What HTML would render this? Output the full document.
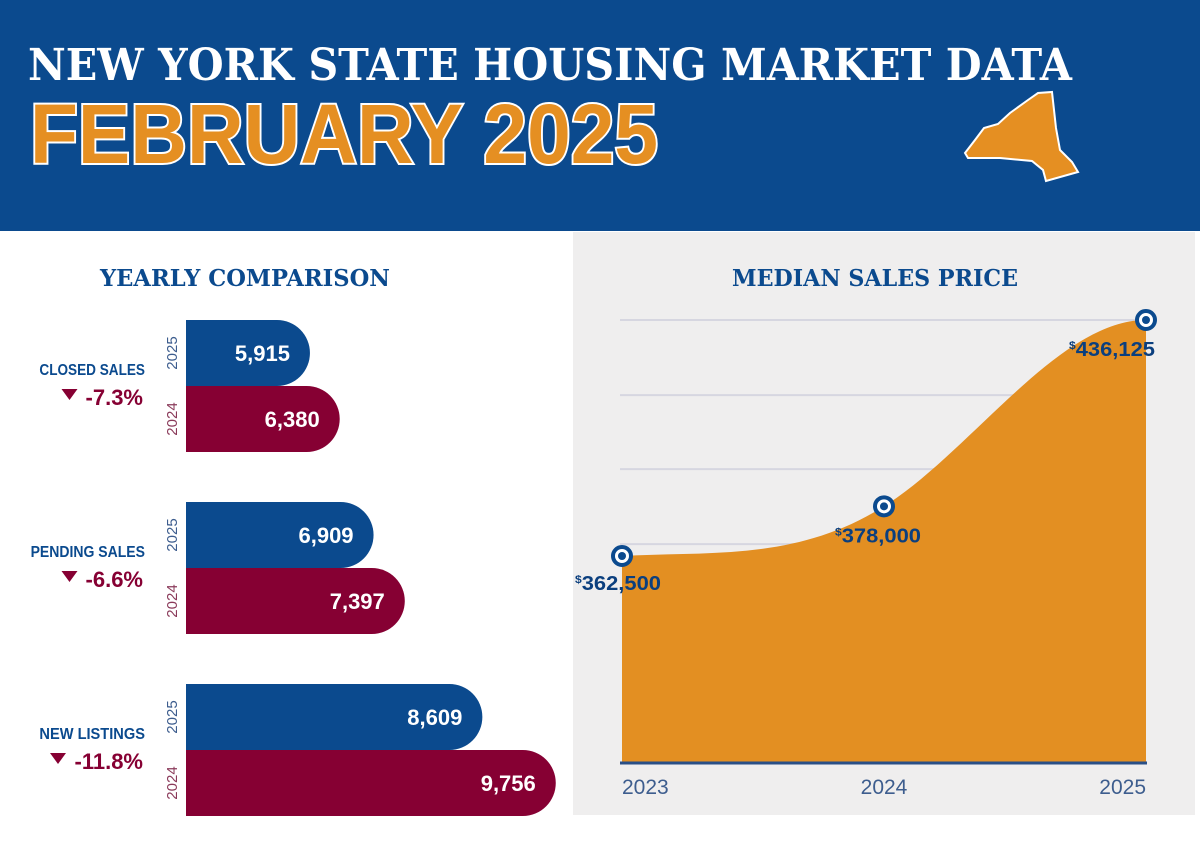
<!DOCTYPE html>
<html><head><meta charset="utf-8"><style>
html,body{margin:0;padding:0;background:#fff;width:1200px;height:842px;overflow:hidden}
svg{display:block}
.slab{font-family:"DejaVu Serif","Liberation Serif",serif;font-weight:bold}
.sans{font-family:"Liberation Sans",sans-serif}
</style></head><body>
<svg id="c" width="1200" height="842" viewBox="0 0 1200 842">
<rect x="0" y="0" width="1200" height="231" fill="#0b4a8e"/>
<text x="28" y="80" class="slab" font-size="44" fill="#fff" textLength="1044" lengthAdjust="spacingAndGlyphs">NEW YORK STATE HOUSING MARKET DATA</text>
<text x="30" y="163" class="sans" font-weight="bold" font-size="84" fill="#e58f22" stroke="#fff" stroke-width="4" paint-order="stroke" textLength="628" lengthAdjust="spacingAndGlyphs">FEBRUARY 2025</text>
<polygon fill="#e58f22" stroke="#fff" stroke-width="2" points="965,153 975,140 984,128 998,124 1010,113 1028,100 1038,93 1052,92 1056,128 1060,150 1072,162 1078,172 1046,181 1043,170 1032,161 1000,158 968,158"/>
<rect x="573" y="232" width="622" height="583" fill="#efeeee"/>
<text x="245" y="286" text-anchor="middle" class="slab" font-size="23" fill="#0b4a8e" textLength="290" lengthAdjust="spacingAndGlyphs">YEARLY COMPARISON</text>
<text x="875" y="286" text-anchor="middle" class="slab" font-size="23" fill="#0b4a8e" textLength="286" lengthAdjust="spacingAndGlyphs">MEDIAN SALES PRICE</text>
<g id="bars"></g>
<g id="area"></g>
</svg>
<script>
const categories=["CLOSED SALES","PENDING SALES","NEW LISTINGS"];
const changes=["-7.3%","-6.6%","-11.8%"];
const values2025=[5915,6909,8609];
const values2024=[6380,7397,9756];
const barLabels2025=["5,915","6,909","8,609"];
const barLabels2024=["6,380","7,397","9,756"];
const priceYears=["2023","2024","2025"];
const prices=[362500,378000,436125];
const priceLabels=["362,500","378,000","436,125"];
const gridValues=[436125,412700,389600,366200];

const NS="http://www.w3.org/2000/svg";
function mk(t,a,p){const e=document.createElementNS(NS,t);for(const k in a)e.setAttribute(k,a[k]);p.appendChild(e);return e;}
const bars=document.getElementById('bars');
const x0=186;
function bw(v){return 225+0.064*(v-7494);}
const groupTop=[320,502,684];
function barPath(y,w,h){const r=h/2;return `M${x0},${y}H${x0+w-r}A${r},${r} 0 0 1 ${x0+w-r},${y+h}H${x0}Z`;}
categories.forEach((c,i)=>{
  const y=groupTop[i],h=66;
  const w5=bw(values2025[i]),w4=bw(values2024[i]);
  let p=mk('path',{d:barPath(y+h,w4,h),fill:'#860033'},bars);
  
  
  p=mk('path',{d:barPath(y,w5,h),fill:'#0b4a8e'},bars);
  
  
  let t=mk('text',{x:x0+w5-20,y:y+h/2+8,'text-anchor':'end','class':'sans','font-weight':'bold','font-size':'22',fill:'#fff'},bars);t.textContent=barLabels2025[i];
  
  
  t=mk('text',{x:x0+w4-20,y:y+h+h/2+8,'text-anchor':'end','class':'sans','font-weight':'bold','font-size':'22',fill:'#fff'},bars);t.textContent=barLabels2024[i];
  
  
  t=mk('text',{x:0,y:0,transform:`translate(177,${y+h/2}) rotate(-90)`,'text-anchor':'middle','class':'sans','font-size':'15',fill:'#3d5d8e'},bars);t.textContent='2025';
  
  
  t=mk('text',{x:0,y:0,transform:`translate(177,${y+h*1.5}) rotate(-90)`,'text-anchor':'middle','class':'sans','font-size':'15',fill:'#8a3a5a'},bars);t.textContent='2024';
  
  
  t=mk('text',{x:145,y:y+55,'text-anchor':'end','class':'sans','font-weight':'bold','font-size':'16',fill:'#0b4a8e',textLength:String(c.length*8.8),lengthAdjust:'spacingAndGlyphs'},bars);t.textContent=c;
  
  
  t=mk('text',{x:143,y:y+85,'text-anchor':'end','class':'sans','font-weight':'bold','font-size':'22',fill:'#860033'},bars);t.textContent=changes[i];
  
  
  const tx=143-changes[i].length*11.5-8;
  p=mk('polygon',{points:`${tx-16},${y+69} ${tx},${y+69} ${tx-8},${y+80}`,fill:'#860033'},bars);
  
  
});

const area=document.getElementById('area');
const xL=622,xR=1146,base=763;
function xs(i){return xL+(xR-xL)*i/(priceYears.length-1);}
const k=(556-320)/(436125-362500);
function ys(v){return 556-(v-362500)*k;}
gridValues.forEach(v=>{const l=mk('line',{x1:620,x2:1146,y1:ys(v),y2:ys(v),stroke:'#d6d6e0','stroke-width':2},area);
  
  });
const P=prices.map((v,i)=>[xs(i),ys(v)]);
const n=P.length,m=[];
for(let i=0;i<n;i++){
  if(i==0)m.push(0.3*(P[1][1]-P[0][1])/(P[1][0]-P[0][0]));
  else if(i==n-1)m.push(0);
  else m.push(1.4*(P[i+1][1]-P[i-1][1])/(P[i+1][0]-P[i-1][0]));
}
let d=`M${P[0][0]},${base}L${P[0][0]},${P[0][1]}`;
for(let i=0;i<n-1;i++){const dx=(P[i+1][0]-P[i][0])/3;
  d+=`C${P[i][0]+dx},${P[i][1]+m[i]*dx} ${P[i+1][0]-dx},${P[i+1][1]-m[i+1]*dx} ${P[i+1][0]},${P[i+1][1]}`;}
d+=`L${P[n-1][0]},${base}Z`;
let a=mk('path',{d:d,fill:'#e38f22'},area);


a=mk('line',{x1:620,x2:1147,y1:base,y2:base,stroke:'#2a4f86','stroke-width':3},area);


const anchors=['start','middle','end'];
const labX=[575,878,1155],labDy=[34,36,-6];
P.forEach((p,i)=>{
  let c=mk('circle',{cx:p[0],cy:p[1],r:9,fill:'#fff',stroke:'#0b4a8e','stroke-width':4},area);
  
  
  c=mk('circle',{cx:p[0],cy:p[1],r:4,fill:'#0b4a8e'},area);
  
  
  const ly=i==2?p[1]+36:p[1]+labDy[i];
  let t=mk('text',{x:labX[i],y:ly,'text-anchor':anchors[i],'class':'sans','font-weight':'bold','font-size':'20',fill:'#0b3f7e',textLength:'86',lengthAdjust:'spacingAndGlyphs'},area);
  t.innerHTML='<tspan font-size="11" dy="-7">$</tspan><tspan dy="7">'+priceLabels[i]+'</tspan>';
  
  
  t=mk('text',{x:p[0],y:794,'text-anchor':anchors[i],'class':'sans','font-size':'21',fill:'#3d5d8e'},area);
  t.textContent=priceYears[i];
  
  
});
</script>
</body></html>
